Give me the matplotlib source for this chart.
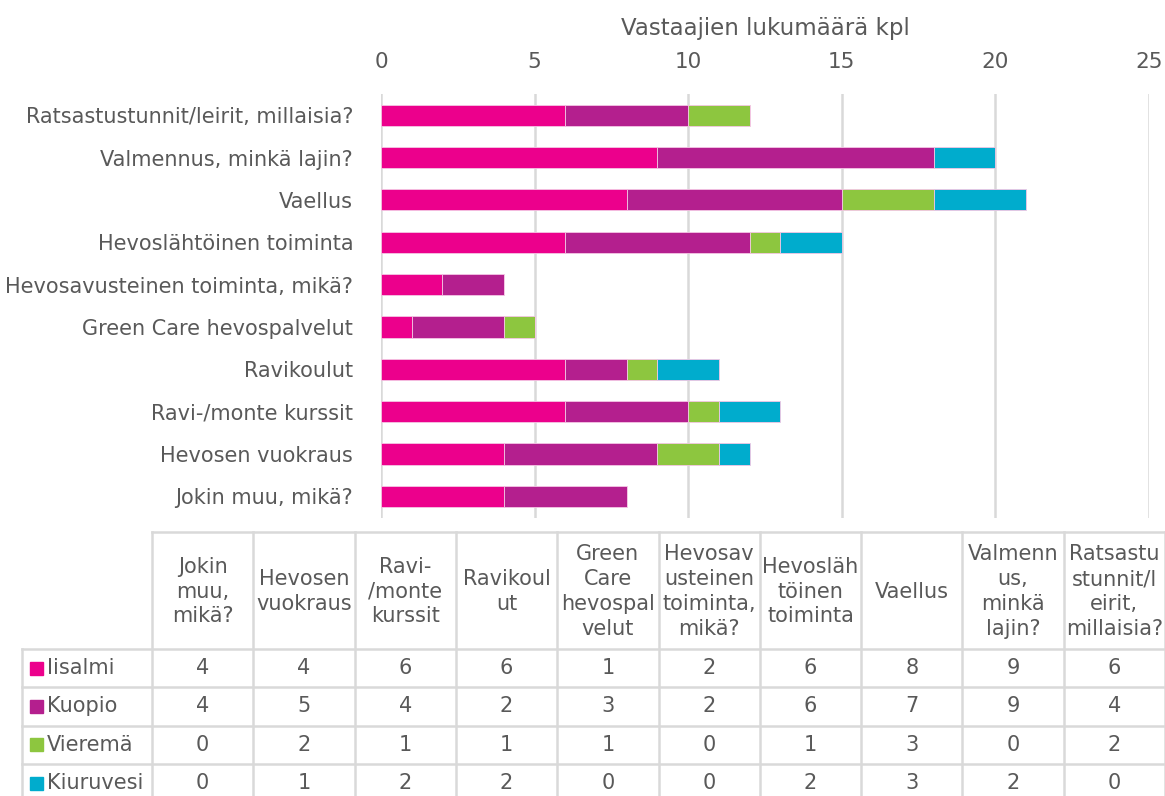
import matplotlib.pyplot as plt
from matplotlib.patches import Rectangle
import numpy as np

# categories in table order (first one is drawn at the bottom)
categories = ["Jokin muu, mikä?", "Hevosen vuokraus", "Ravi-/monte kurssit", "Ravikoulut",
              "Green Care hevospalvelut", "Hevosavusteinen toiminta, mikä?",
              "Hevoslähtöinen toiminta", "Vaellus", "Valmennus, minkä lajin?",
              "Ratsastustunnit/leirit, millaisia?"]
# wrapped as in the data table header
header_labels = ["Jokin\nmuu,\nmikä?", "Hevosen\nvuokraus", "Ravi-\n/monte\nkurssit", "Ravikoul\nut",
                 "Green\nCare\nhevospal\nvelut", "Hevosav\nusteinen\ntoiminta,\nmikä?",
                 "Hevosläh\ntöinen\ntoiminta", "Vaellus", "Valmenn\nus,\nminkä\nlajin?",
                 "Ratsastu\nstunnit/l\neirit,\nmillaisia?"]

series_names = ["Iisalmi", "Kuopio", "Vieremä", "Kiuruvesi"]
iisalmi = [4, 4, 6, 6, 1, 2, 6, 8, 9, 6]
kuopio = [4, 5, 4, 2, 3, 2, 6, 7, 9, 4]
vierema = [0, 2, 1, 1, 1, 0, 1, 3, 0, 2]
kiuruvesi = [0, 1, 2, 2, 0, 0, 2, 3, 2, 0]
series = [iisalmi, kuopio, vierema, kiuruvesi]
colors = ["#EC008C", "#B41F8E", "#8DC63F", "#00ACCD"]

text_col = "#595959"
grid_col = "#D9D9D9"
plt.rcParams['font.family'] = ['DejaVu Sans']

W, H = 1165, 796
fig = plt.figure(figsize=(W / 100, H / 100), dpi=100)

# bar chart
ax = fig.add_axes([381 / W, 1 - 517.5 / H, (1149 - 381) / W, 423.5 / H])
y = np.arange(len(categories))
left = np.zeros(len(categories))
for vals, c, name in zip(series, colors, series_names):
    ax.barh(y, vals, left=left, height=0.5, color=c, edgecolor="#F4C6E4", linewidth=0.6, label=name)
    left += np.array(vals)

ax.set_xlim(0, 25)
ax.set_ylim(-0.5, len(categories) - 0.5)
ax.set_xticks(range(0, 26, 5))
ax.xaxis.tick_top()
ax.xaxis.set_label_position("top")
ax.set_xlabel("Vastaajien lukumäärä kpl", fontsize=16.5, color=text_col, labelpad=12)
ax.set_yticks(y)
ax.set_yticklabels(categories)
ax.tick_params(axis="x", length=0, labelsize=15.5, labelcolor=text_col, pad=16)
ax.tick_params(axis="y", length=0, labelsize=15, labelcolor=text_col, pad=20)
for s in ax.spines.values():
    s.set_visible(False)
ax.grid(axis="x", color=grid_col, linewidth=1.8)
ax.set_axisbelow(True)

# data table under the chart, drawn in pixel coordinates
tax = fig.add_axes([0, 0, 1, 1])
tax.set_xlim(0, W)
tax.set_ylim(H, 0)
tax.axis("off")

x0, cw = 152, 101.3
top, hdr_bot, rh = 532, 649, 38.3
leg_left = 22
ncol = len(categories)
xr = x0 + cw * ncol
row_edges = [hdr_bot + rh * i for i in range(len(series) + 1)]

tax.plot([x0, xr], [top, top], color=grid_col, lw=1.8)
for yy in row_edges:
    tax.plot([leg_left, xr], [yy, yy], color=grid_col, lw=1.8)
tax.plot([leg_left, leg_left], [hdr_bot, H], color=grid_col, lw=1.8)
for j in range(ncol + 1):
    tax.plot([x0 + cw * j, x0 + cw * j], [top, H], color=grid_col, lw=1.8)

for j, lab in enumerate(header_labels):
    tax.text(x0 + cw * (j + 0.5), (top + hdr_bot) / 2 + 1, lab, ha="center", va="center",
             fontsize=15, color=text_col, linespacing=1.3)

for i, (vals, c, name) in enumerate(zip(series, colors, series_names)):
    cy = hdr_bot + rh * (i + 0.5)
    tax.add_patch(Rectangle((30, cy - 6.5), 13, 13, color=c))
    tax.text(47, cy, name, ha="left", va="center", fontsize=15, color=text_col)
    for j, v in enumerate(vals):
        tax.text(x0 + cw * (j + 0.5), cy, str(v), ha="center", va="center",
                 fontsize=15, color=text_col)

fig.savefig("out.png", dpi=100)
